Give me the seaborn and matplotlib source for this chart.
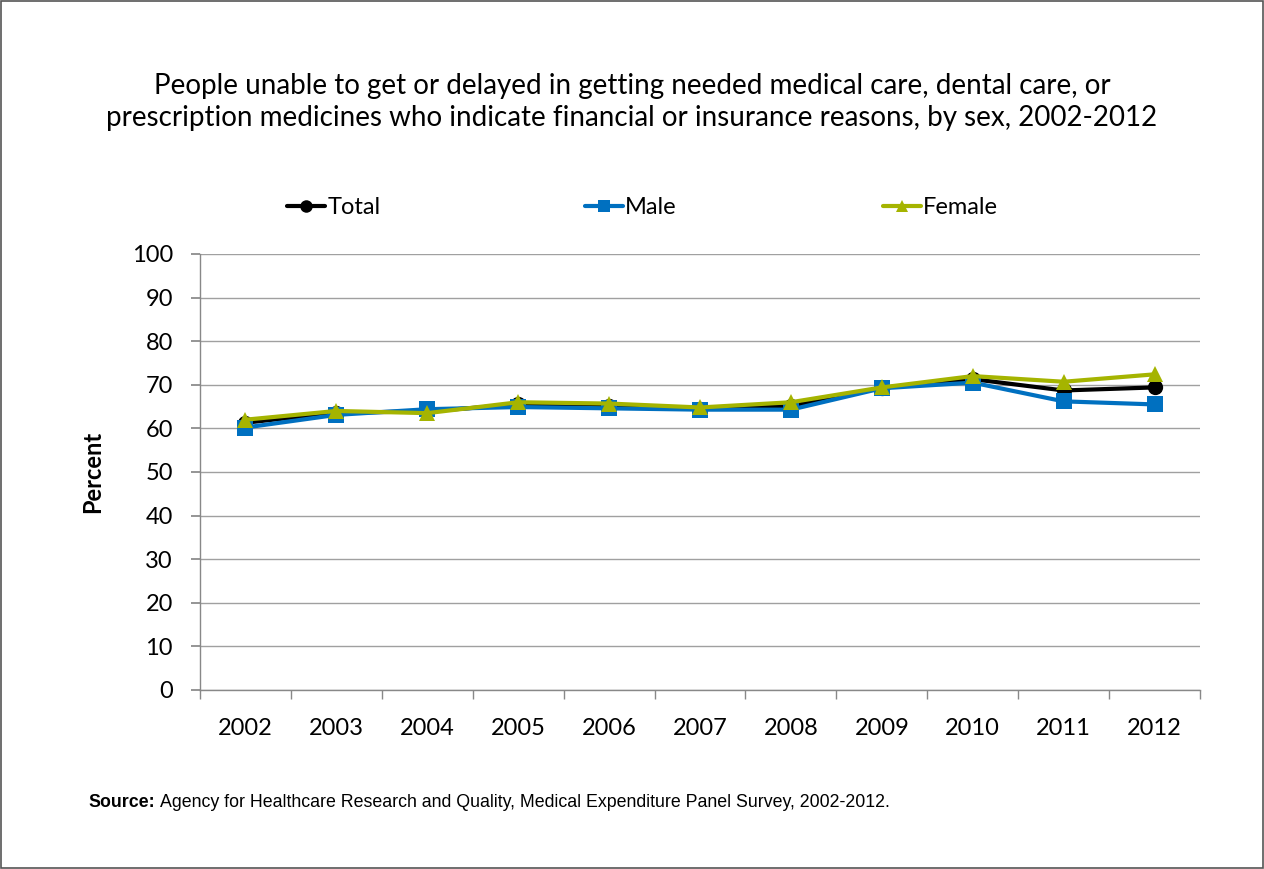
import pandas as pd
import matplotlib.pyplot as plt
import seaborn as sns
from matplotlib.patches import Rectangle

# Data
years = ['2002', '2003', '2004', '2005', '2006', '2007', '2008', '2009', '2010', '2011', '2012']
total = [61.3, 63.6, 63.9, 65.5, 65.1, 64.5, 65.1, 69.3, 71.3, 68.7, 69.4]
male = [60.2, 63.1, 64.4, 64.9, 64.6, 64.3, 64.3, 69.2, 70.5, 66.2, 65.5]
female = [62.0, 64.0, 63.5, 66.0, 65.7, 64.8, 66.0, 69.4, 72.0, 70.7, 72.4]

series = ['Total', 'Male', 'Female']
colors = {'Total': '#000000', 'Male': '#0070C0', 'Female': '#A5B400'}
markers = {'Total': 'o', 'Male': 's', 'Female': '^'}

df = pd.DataFrame({'Year': years, 'Total': total, 'Male': male, 'Female': female})
df['x'] = range(len(years))
df_long = df.melt(id_vars=['Year', 'x'], value_vars=series, var_name='Group', value_name='Percent')

sns.set_theme(style='white')
plt.rcParams['font.family'] = ['Lato', 'DejaVu Sans']
plt.rcParams['text.color'] = 'black'
plt.rcParams['axes.labelcolor'] = 'black'

W, H = 1264, 869
fig = plt.figure(figsize=(W / 100, H / 100), dpi=100)
ax = fig.add_axes([200 / W, 1 - 690 / H, 1000 / W, 436 / H])

sns.lineplot(data=df_long, x='x', y='Percent', hue='Group', style='Group',
             palette=colors, markers=markers, dashes=False, linewidth=3,
             markersize=11, markeredgewidth=0, ax=ax, legend=False)

ax.set_xlim(-0.5, len(years) - 0.5)
ax.set_ylim(0, 100)
ax.set_yticks(range(0, 101, 10))
ax.set_xticks(range(len(years)))
ax.set_xticklabels(years)
ax.set_xticks([i - 0.5 for i in range(len(years) + 1)], minor=True)
ax.tick_params(axis='x', which='major', length=0, labelsize=17, labelcolor='black', pad=20)
ax.tick_params(axis='x', which='minor', length=6.5, color='#888888', direction='out', bottom=True)
ax.tick_params(axis='y', length=6.5, color='#888888', direction='out', left=True, labelsize=17,
               labelcolor='black', pad=13)
ax.yaxis.grid(True, color='#A0A0A0', linewidth=1)
ax.set_axisbelow(True)
for s in ['top', 'right']:
    ax.spines[s].set_visible(False)
for s in ['left', 'bottom']:
    ax.spines[s].set_color('#888888')
    ax.spines[s].set_linewidth(1)

ax.set_xlabel('')
ax.set_ylabel('Percent', fontsize=17, fontweight='bold', labelpad=20)

# Title
fig.text(0.5, 1 - 102 / H,
         'People unable to get or delayed in getting needed medical care, dental care, or\n'
         'prescription medicines who indicate financial or insurance reasons, by sex, 2002-2012',
         ha='center', va='center', fontsize=20, linespacing=1.3)

# Legend: one entry each, placed like the original
legend_x = [287, 585, 883]
for g, lx in zip(series, legend_x):
    h = plt.Line2D([], [], color=colors[g], marker=markers[g], linewidth=3,
                   markersize=9, markeredgewidth=0)
    fig.legend([h], [g], loc='center left', bbox_to_anchor=(lx / W, 1 - 208 / H),
               frameon=False, fontsize=17, handlelength=1.6, handletextpad=0.1,
               borderpad=0, borderaxespad=0)

# Source note
src_y = 1 - 807 / H
t1 = fig.text(88 / W, src_y, 'Source:', ha='left', va='baseline', fontsize=12.75,
              fontweight='bold', family=['Liberation Sans', 'DejaVu Sans'])
fig.canvas.draw()
bb = t1.get_window_extent()
fig.text((bb.x1 + 5) / W, src_y,
         'Agency for Healthcare Research and Quality, Medical Expenditure Panel Survey, 2002-2012.',
         ha='left', va='baseline', fontsize=12.75, family=['Liberation Sans', 'DejaVu Sans'])

# Figure border
fig.patches.append(Rectangle((0.001, 0.001), 0.998, 0.998, transform=fig.transFigure,
                             fill=False, edgecolor='#555555', linewidth=1.2))

fig.savefig('out.png', dpi=100)
